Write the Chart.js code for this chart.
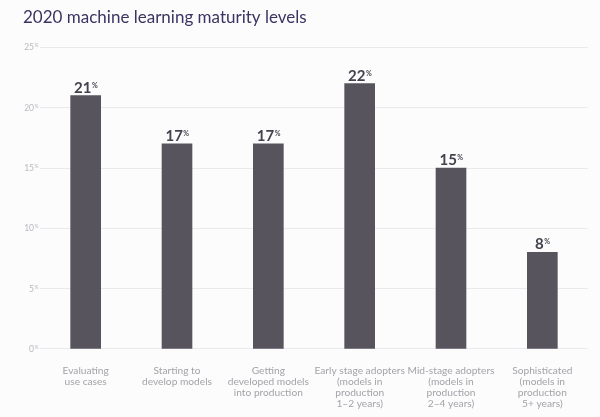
<!DOCTYPE html>
<html>
<head>
<meta charset="utf-8">
<script src="https://cdn.jsdelivr.net/npm/chart.js@4"></script>
<style>
  html, body { margin: 0; padding: 0; background: #fcfcfd; }
  #wrap { width: 600px; height: 417px; position: relative; }
</style>
</head>
<body>
<div id="wrap"><canvas id="chart"></canvas></div>
<script>
const categories = [
    ['Evaluating', 'use cases'],
    ['Starting to', 'develop models'],
    ['Getting', 'developed models', 'into production'],
    ['Early stage adopters', '(models in', 'production', '1\u20132 years)'],
    ['Mid-stage adopters', '(models in', 'production', '2\u20134 years)'],
    ['Sophisticated', '(models in', 'production', '5+ years)']
];
const maturity = [21, 17, 17, 22, 15, 8];
const yTicks = [0, 5, 10, 15, 20, 25];

// draws "NN" + small superscript "%"
function drawPct(ctx, num, x, y, bigFont, smallFont, align, lift) {
    ctx.font = bigFont;
    let w1 = ctx.measureText(num).width;
    ctx.font = smallFont;
    let w2 = ctx.measureText('%').width;
    let start = align === 'right' ? x - w1 - w2 : x - (w1 + w2) / 2;
    ctx.textAlign = 'left';
    ctx.textBaseline = 'alphabetic';
    ctx.font = bigFont;
    ctx.fillText(num, start, y);
    ctx.font = smallFont;
    ctx.fillText('%', start + w1 + 0.5, y - lift);
}

const pctLabels = {
    id: 'pctLabels',
    afterDraw(chart) {
        let ctx = chart.ctx;
        let yScale = chart.scales.y;
        ctx.save();
        ctx.fillStyle = '#b9b9bf';
        yTicks.forEach((t) => {
            let py = yScale.getPixelForValue(t);
            drawPct(ctx, String(t), 38, py + 3, '8.5px Lato', '5px Lato', 'right', 3);
        });
        ctx.fillStyle = '#45414d';
        let meta = chart.getDatasetMeta(0);
        meta.data.forEach((bar, i) => {
            drawPct(ctx, String(maturity[i]), bar.x, bar.y - 3, 'bold 15px Lato', 'bold 7px Lato', 'center', 5);
        });
        ctx.restore();
    }
};

function createChart(id, config) {
    try {
        return new Chart(id, config);
    } catch (e) {
        console.log(e);
    }
}

createChart('chart', {
    type: 'bar',
    data: {
        labels: categories,
        datasets: [{
            data: maturity,
            backgroundColor: '#57545e',
            barThickness: 30
        }]
    },
    options: {
        responsive: true,
        maintainAspectRatio: false,
        animation: false,
        layout: { padding: { left: 23, right: 12, top: 0, bottom: 0 } },
        plugins: {
            legend: { display: false },
            tooltip: { enabled: false },
            title: {
                display: true,
                text: '2020 machine learning maturity levels',
                align: 'start',
                color: '#3b3462',
                font: { family: 'Lato', size: 17, weight: 'normal' },
                padding: { top: 7, bottom: 20 }
            }
        },
        scales: {
            x: {
                grid: { display: false },
                border: { display: false },
                ticks: {
                    color: '#a3a3a8',
                    font: { family: 'Lato', size: 10.2, lineHeight: 1.08 },
                    padding: 8,
                    maxRotation: 0,
                    autoSkip: false
                }
            },
            y: {
                min: 0,
                max: 25,
                grid: { color: '#e9e9ee', drawTicks: false },
                border: { display: false },
                ticks: { display: false, stepSize: 5 },
                afterFit(scale) { scale.width = 17; }
            }
        }
    },
    plugins: [pctLabels]
});
</script>
</body>
</html>
